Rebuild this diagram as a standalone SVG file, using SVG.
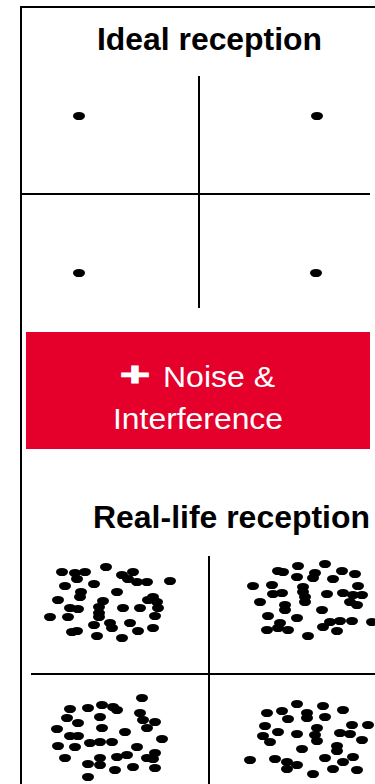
<svg xmlns="http://www.w3.org/2000/svg" width="375" height="784" viewBox="0 0 375 784">
<style>
.ln{stroke:#000;stroke-width:2;fill:none}
.ttl{font-family:"Liberation Sans",Arial,sans-serif;font-weight:bold;font-size:31px;fill:#000}
.wt{font-family:"Liberation Sans",Arial,sans-serif;font-size:30px;fill:#fff}
.plus{font-weight:bold;font-size:34px;stroke:#fff;stroke-width:1.2px}
.d{fill:#000}
</style>
<defs>
<ellipse id="dt" cx="0" cy="0" rx="6" ry="4.1"/>
</defs>
<rect width="375" height="784" fill="#fff"/>
<g id="frame"><path class="ln" d="M21,784 V7 H375"/></g>
<g id="ideal">
<text class="ttl" x="97" y="50" textLength="225" lengthAdjust="spacingAndGlyphs">Ideal reception</text>
<g id="ideal-axes"><path class="ln" d="M199,76 V308 M21,194 H370"/></g>
<g id="ideal-dots" class="d">
<use href="#dt" x="79" y="116"/><use href="#dt" x="317" y="116"/>
<use href="#dt" x="79" y="273"/><use href="#dt" x="316" y="273"/>
</g>
</g>
<g id="noise">
<rect x="26" y="332" width="344" height="117" fill="#E4002B"/>
<text class="wt plus" x="120" y="386" textLength="30" lengthAdjust="spacingAndGlyphs">+</text>
<text class="wt" x="163" y="387" textLength="112" lengthAdjust="spacingAndGlyphs">Noise &amp;</text>
<text class="wt" x="113" y="429" textLength="170" lengthAdjust="spacingAndGlyphs">Interference</text>
</g>
<g id="real">
<text class="ttl" x="93" y="528" textLength="277" lengthAdjust="spacingAndGlyphs">Real-life reception</text>
<g id="real-axes"><path class="ln" d="M209,556 V784 M31,674 H375"/></g>
<g id="real-dots" class="d">
<use href="#dt" x="62" y="572"/><use href="#dt" x="75" y="573"/><use href="#dt" x="85" y="572"/><use href="#dt" x="77" y="579"/><use href="#dt" x="106" y="567"/><use href="#dt" x="122" y="575"/><use href="#dt" x="133" y="572"/><use href="#dt" x="128" y="579"/><use href="#dt" x="137" y="582"/><use href="#dt" x="147" y="582"/><use href="#dt" x="170" y="581"/><use href="#dt" x="65" y="586"/><use href="#dt" x="94" y="584"/><use href="#dt" x="81" y="592"/><use href="#dt" x="80" y="597"/><use href="#dt" x="117" y="592"/><use href="#dt" x="58" y="600"/><use href="#dt" x="103" y="601"/><use href="#dt" x="153" y="597"/><use href="#dt" x="148" y="600"/><use href="#dt" x="157" y="602"/><use href="#dt" x="70" y="608"/><use href="#dt" x="78" y="609"/><use href="#dt" x="99" y="607"/><use href="#dt" x="99" y="613"/><use href="#dt" x="123" y="608"/><use href="#dt" x="140" y="608"/><use href="#dt" x="158" y="608"/><use href="#dt" x="50" y="617"/><use href="#dt" x="68" y="617"/><use href="#dt" x="99" y="617"/><use href="#dt" x="155" y="616"/><use href="#dt" x="94" y="625"/><use href="#dt" x="110" y="623"/><use href="#dt" x="112" y="628"/><use href="#dt" x="130" y="623"/><use href="#dt" x="77" y="631"/><use href="#dt" x="72" y="632"/><use href="#dt" x="138" y="631"/><use href="#dt" x="153" y="628"/><use href="#dt" x="97" y="636"/><use href="#dt" x="122" y="638"/>
<use href="#dt" x="278" y="571"/><use href="#dt" x="283" y="572"/><use href="#dt" x="298" y="566"/><use href="#dt" x="325" y="564"/><use href="#dt" x="315" y="573"/><use href="#dt" x="342" y="571"/><use href="#dt" x="355" y="574"/><use href="#dt" x="297" y="577"/><use href="#dt" x="313" y="578"/><use href="#dt" x="333" y="579"/><use href="#dt" x="253" y="586"/><use href="#dt" x="272" y="585"/><use href="#dt" x="303" y="587"/><use href="#dt" x="358" y="586"/><use href="#dt" x="273" y="594"/><use href="#dt" x="282" y="593"/><use href="#dt" x="303" y="592"/><use href="#dt" x="305" y="597"/><use href="#dt" x="327" y="594"/><use href="#dt" x="343" y="593"/><use href="#dt" x="353" y="595"/><use href="#dt" x="362" y="595"/><use href="#dt" x="260" y="602"/><use href="#dt" x="285" y="605"/><use href="#dt" x="285" y="610"/><use href="#dt" x="305" y="602"/><use href="#dt" x="350" y="602"/><use href="#dt" x="357" y="605"/><use href="#dt" x="322" y="610"/><use href="#dt" x="268" y="616"/><use href="#dt" x="297" y="618"/><use href="#dt" x="280" y="623"/><use href="#dt" x="330" y="622"/><use href="#dt" x="340" y="621"/><use href="#dt" x="352" y="621"/><use href="#dt" x="372" y="622"/><use href="#dt" x="323" y="627"/><use href="#dt" x="267" y="630"/><use href="#dt" x="278" y="628"/><use href="#dt" x="288" y="630"/><use href="#dt" x="337" y="631"/><use href="#dt" x="308" y="636"/>
<use href="#dt" x="142" y="698"/><use href="#dt" x="70" y="709"/><use href="#dt" x="88" y="708"/><use href="#dt" x="102" y="705"/><use href="#dt" x="113" y="707"/><use href="#dt" x="117" y="710"/><use href="#dt" x="100" y="717"/><use href="#dt" x="140" y="713"/><use href="#dt" x="143" y="720"/><use href="#dt" x="155" y="722"/><use href="#dt" x="67" y="718"/><use href="#dt" x="78" y="723"/><use href="#dt" x="57" y="729"/><use href="#dt" x="102" y="728"/><use href="#dt" x="125" y="732"/><use href="#dt" x="147" y="728"/><use href="#dt" x="70" y="736"/><use href="#dt" x="78" y="736"/><use href="#dt" x="162" y="739"/><use href="#dt" x="90" y="743"/><use href="#dt" x="100" y="742"/><use href="#dt" x="112" y="742"/><use href="#dt" x="58" y="746"/><use href="#dt" x="75" y="747"/><use href="#dt" x="137" y="747"/><use href="#dt" x="65" y="758"/><use href="#dt" x="100" y="758"/><use href="#dt" x="117" y="757"/><use href="#dt" x="127" y="755"/><use href="#dt" x="147" y="758"/><use href="#dt" x="155" y="753"/><use href="#dt" x="153" y="759"/><use href="#dt" x="88" y="764"/><use href="#dt" x="100" y="765"/><use href="#dt" x="115" y="770"/><use href="#dt" x="133" y="767"/><use href="#dt" x="155" y="768"/><use href="#dt" x="88" y="777"/>
<use href="#dt" x="297" y="704"/><use href="#dt" x="323" y="706"/><use href="#dt" x="343" y="710"/><use href="#dt" x="267" y="713"/><use href="#dt" x="282" y="711"/><use href="#dt" x="307" y="713"/><use href="#dt" x="288" y="719"/><use href="#dt" x="307" y="718"/><use href="#dt" x="325" y="717"/><use href="#dt" x="352" y="725"/><use href="#dt" x="368" y="725"/><use href="#dt" x="265" y="726"/><use href="#dt" x="278" y="732"/><use href="#dt" x="297" y="734"/><use href="#dt" x="317" y="728"/><use href="#dt" x="315" y="735"/><use href="#dt" x="340" y="733"/><use href="#dt" x="350" y="734"/><use href="#dt" x="263" y="736"/><use href="#dt" x="270" y="742"/><use href="#dt" x="362" y="740"/><use href="#dt" x="317" y="741"/><use href="#dt" x="337" y="746"/><use href="#dt" x="302" y="749"/><use href="#dt" x="337" y="751"/><use href="#dt" x="325" y="758"/><use href="#dt" x="353" y="757"/><use href="#dt" x="250" y="760"/><use href="#dt" x="275" y="759"/><use href="#dt" x="287" y="762"/><use href="#dt" x="297" y="765"/><use href="#dt" x="287" y="769"/><use href="#dt" x="343" y="762"/><use href="#dt" x="333" y="769"/><use href="#dt" x="357" y="770"/><use href="#dt" x="313" y="774"/>
</g>
</g>
</svg>
